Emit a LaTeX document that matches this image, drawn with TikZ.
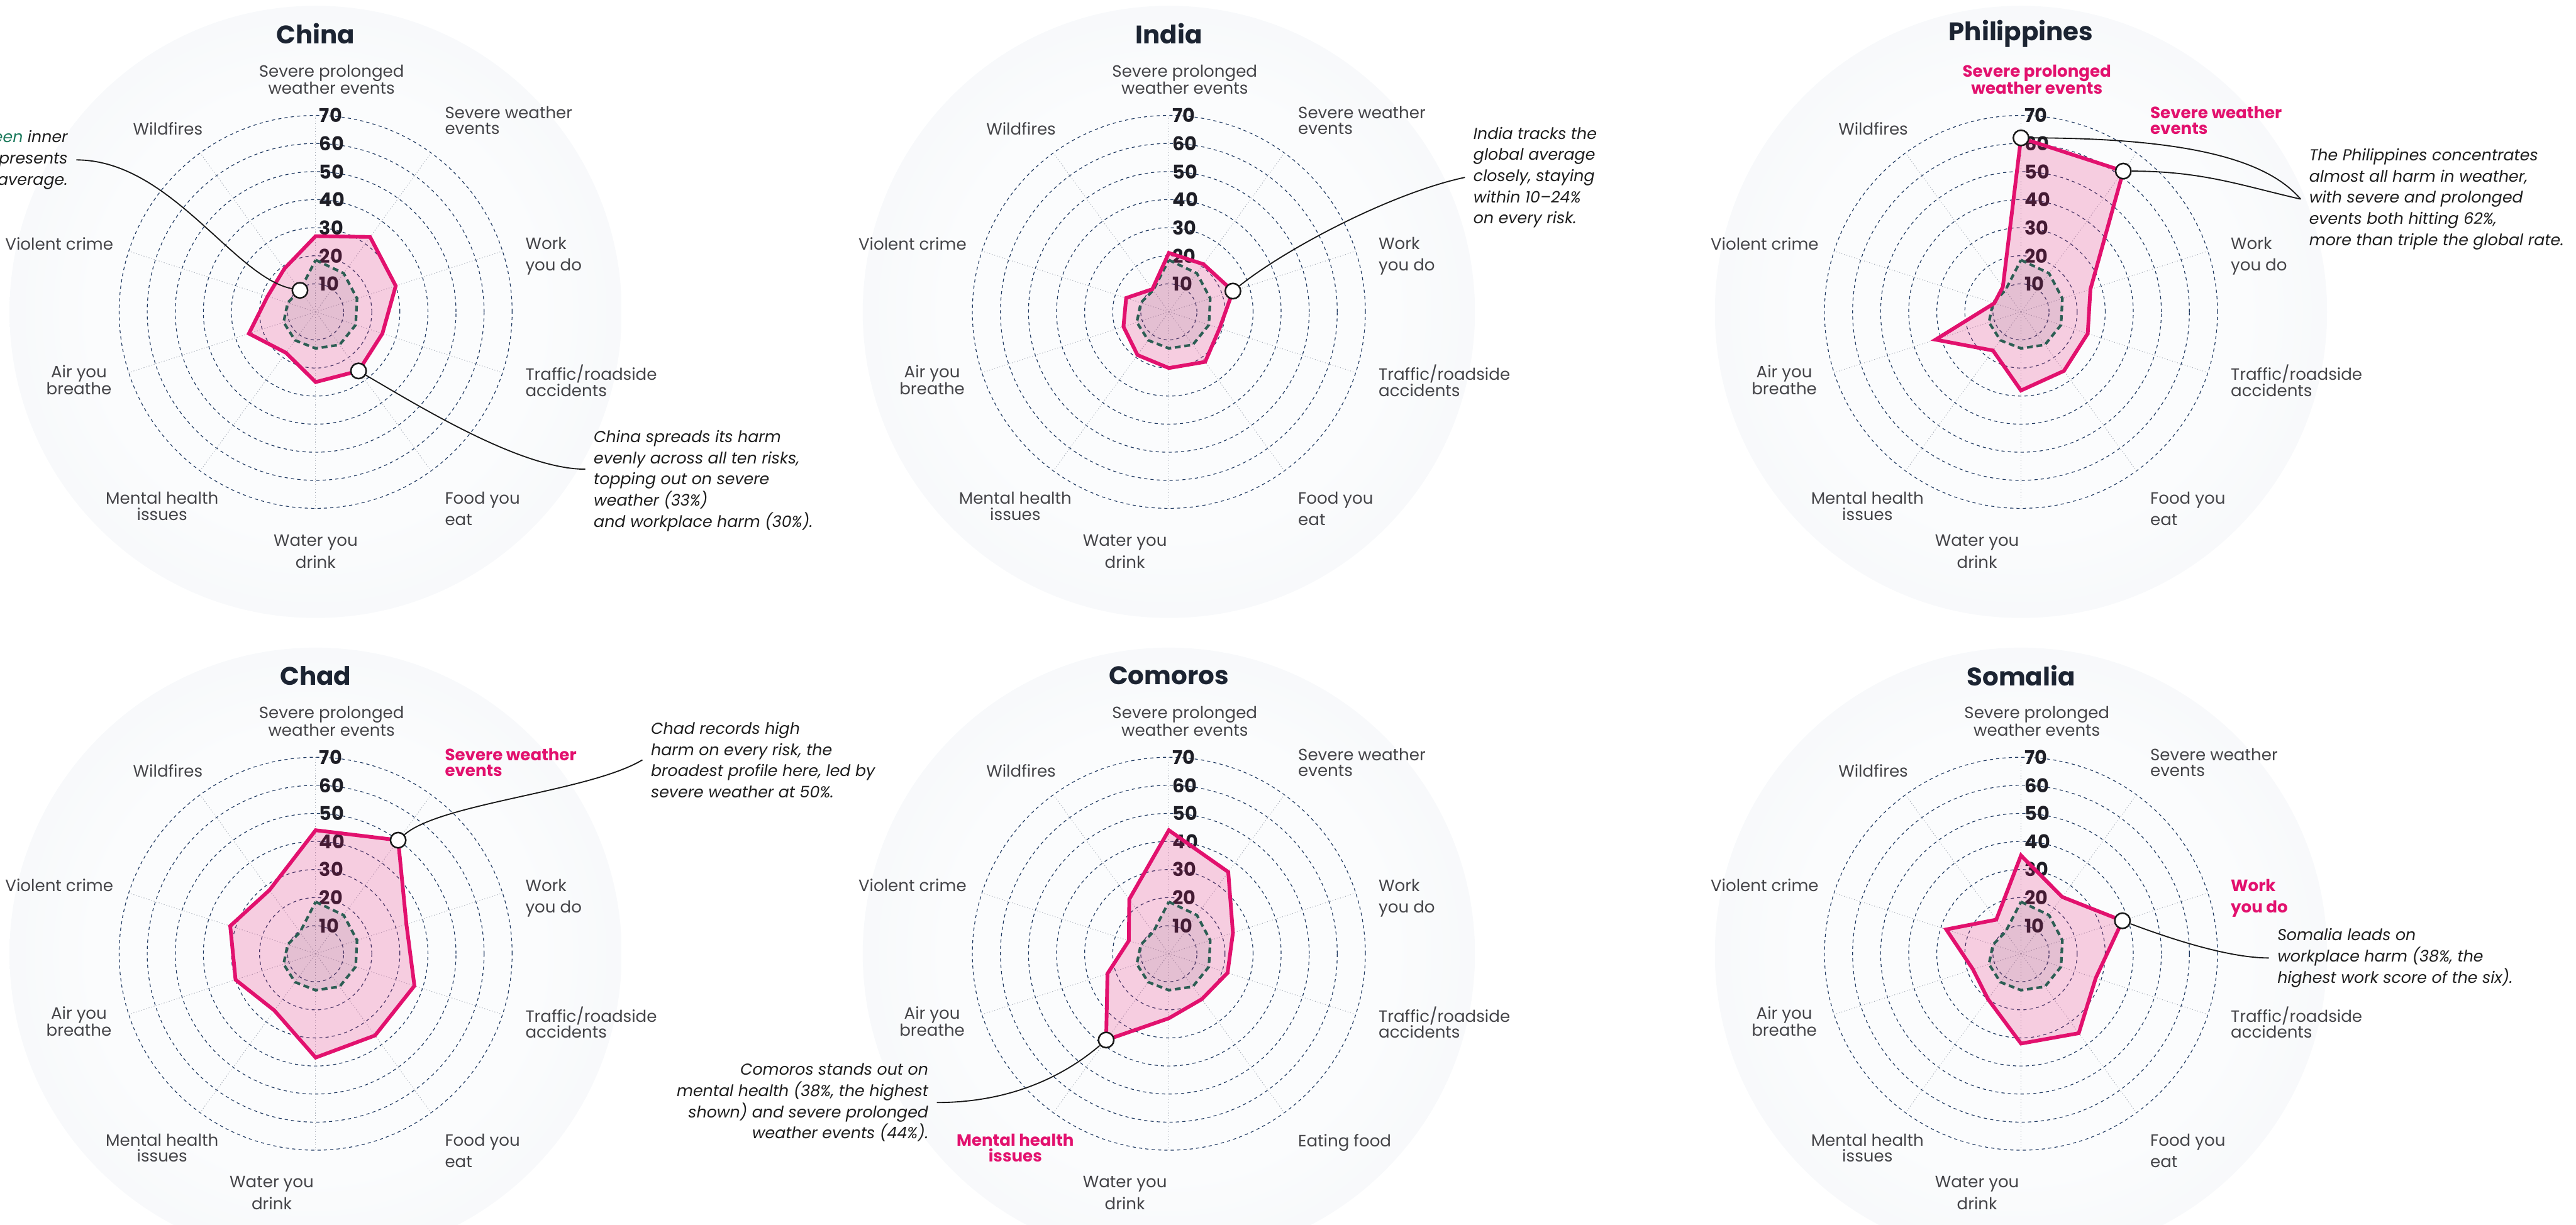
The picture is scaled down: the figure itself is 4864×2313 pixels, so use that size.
\documentclass[tikz,border=0pt]{standalone}
\usepackage{fontspec}
\setmainfont{Poppins}
\usepackage{xcolor}
\usepackage{tikz}

\definecolor{discin}{RGB}{251,252,253}
\definecolor{discout}{RGB}{235,238,242}
\definecolor{harm}{RGB}{226,17,110}
\definecolor{avggreen}{RGB}{44,94,84}
\definecolor{notegreen}{RGB}{27,122,92}
\definecolor{ringblue}{RGB}{32,58,98}
\definecolor{labgrey}{RGB}{68,68,72}
\definecolor{inkdark}{RGB}{28,36,50}

\pgfdeclareradialshading{discshade}{\pgfpoint{0bp}{0bp}}{%
  color(0bp)=(discin); color(18bp)=(discin);
  color(50bp)=(discout); color(60bp)=(discout)}

\begin{document}
\begin{tikzpicture}[
  x=1pt, y=1pt,
  disc/.style={shading=discshade},
  ring/.style={draw=ringblue, line width=1.4pt,
    dash pattern=on 6pt off 6pt},
  spoke/.style={draw={rgb,255:red,170;green,176;blue,186},
    line width=1.2pt, dash pattern=on 1.5pt off 3.5pt},
  scalelab/.style={anchor=west, inner sep=0pt,
    text={rgb,255:red,30;green,30;blue,38},
    font=\fontsize{36}{36}\selectfont\bfseries},
  axlab/.style={inner sep=0pt, text=labgrey,
    font=\fontsize{31}{30}\selectfont},
  axlabhl/.style={text=harm, font=\fontsize{31}{30}\selectfont\bfseries},
  charttitle/.style={inner sep=0pt, text=inkdark,
    font=\fontsize{48}{48}\selectfont\bfseries},
  cfill/.style={fill=harm, fill opacity=0.2},
  cline/.style={draw=harm, line width=7pt},
  afill/.style={fill={rgb,255:red,50;green,50;blue,70}, fill opacity=0.09},
  aline/.style={draw=avggreen, line width=5pt,
    dash pattern=on 11pt off 7pt},
  hotspot/.style={circle, draw={rgb,255:red,25;green,25;blue,25},
    fill=white, line width=3pt, minimum size=29pt, inner sep=0pt},
  note/.style={inner xsep=16pt, inner ysep=0pt,
    text={rgb,255:red,30;green,30;blue,30},
    font=\fontsize{30}{40}\selectfont\itshape},
  link/.style={draw={rgb,255:red,25;green,25;blue,25}, line width=2.2pt},
  hl-philippines-0/.style={axlabhl},
  hl-philippines-1/.style={axlabhl},
  hl-chad-1/.style={axlabhl},
  hl-comoros-6/.style={axlabhl},
  hl-somalia-2/.style={axlabhl},
]

  %% ── Canvas ──────────────────────────────────────────────────
  \useasboundingbox (0,0) rectangle (4864,2313);

  %% ── Chart centres ───────────────────────────────────────────
  \coordinate (china)       at (596,1724);
  \coordinate (india)       at (2207,1724);
  \coordinate (philippines) at (3816,1724);
  \coordinate (chad)        at (596,512);
  \coordinate (comoros)     at (2207,512);
  \coordinate (somalia)     at (3816,512);

  %% ── Radar charts ────────────────────────────────────────────
  \foreach \c/\ttl/\vals/\food/\wx in {
      china/China/{27,33,30,25,26,25,18,25,18,19}/{Food you\\[10pt]eat}/0,
      india/India/{21,21,24,19,22,20,19,17,16,10}/{Food you\\[10pt]eat}/-83,
      philippines/Philippines/{62,62,26,25,26,28,17,32,10,11}/{Food you\\[10pt]eat}/-83,
      chad/Chad/{44,50,34,37,36,37,25,30,32,28}/{Food you\\[10pt]eat}/-83,
      comoros/Comoros/{44,36,24,22,20,23,38,23,15,24}/{Eating food}/-83,
      somalia/Somalia/{35,25,38,28,35,32,20,18,28,15}/{Food you\\[10pt]eat}/-83} {

    \shade[disc] (\c) circle (578);
    \foreach \r in {1,...,7}
      \draw[ring] (\c) circle (53*\r);
    \foreach \k in {0,...,9}
      \draw[spoke] (\c) -- ++(90-36*\k:371);
    \foreach \r in {1,...,7}
      \node[scalelab] (\c-s\r) at ([shift={(7,53*\r)}]\c) {\r0};

    \node[charttitle] (\c-title) at ([shift={(0,525)}]\c) {\ttl};

    \foreach \k/\dx/\dy/\anc/\al/\txt in {
        0/30/467/north/center/{Severe prolonged\\weather events},
        1/244/388/north west/left/{Severe weather\\events},
        2/396/141/north west/left/{Work\\[10pt]you do},
        3/396/-100/north west/left/{Traffic/roadside\\accidents},
        4/244/-340/north west/left/{\food},
        5/\wx/-420/north/center/{Water you\\[9pt]drink},
        6/-290/-340/north/center/{Mental health\\issues},
        7/-447/-100/north/center/{Air you\\breathe},
        8/-382/141/north east/right/{Violent crime},
        9/-279/358/north/center/{Wildfires}}
      \node[axlab, anchor=\anc, align=\al, hl-\c-\k/.try]
        (\c-lab\k) at ([shift={(\dx,\dy)}]\c) {\txt};

    \foreach \v [count=\k from 0] in \vals
      \coordinate (\c-\k) at ([shift={(90-36*\k:5.3*\v)}]\c);
    \foreach \v [count=\k from 0] in {18.5,17,15.5,15,14.5,13,12.5,12,10.5,9.5}
      \coordinate (\c-a\k) at ([shift={(90-36*\k:5.3*\v)}]\c);

    \fill[cfill] (\c-0) \foreach \k in {1,...,9} {-- (\c-\k)} -- cycle;
    \fill[afill] (\c-a0) \foreach \k in {1,...,9} {-- (\c-a\k)} -- cycle;
    \draw[aline] (\c-a0) \foreach \k in {1,...,9} {-- (\c-a\k)} -- cycle;
    \draw[cline] (\c-0) \foreach \k in {1,...,9} {-- (\c-\k)} -- cycle;
  }

  %% ── Notes ───────────────────────────────────────────────────
  \node[note, anchor=east, align=right] (chinaL) at (144,2011)
    {The \textcolor{notegreen}{green} inner\\shape represents\\the global average.};
  \node[note, anchor=west, align=left] (chinaR) at (1105,1405)
    {China spreads its harm\\evenly across all ten risks,\\topping out on severe\\weather (33\%)\\and workplace harm (30\%).};
  \node[note, anchor=west, align=left] (indiaN) at (2766,1978)
    {India tracks the\\global average\\closely, staying\\within 10--24\%\\on every risk.};
  \node[note, anchor=west, align=left] (philN) at (4344,1937)
    {The Philippines concentrates\\almost all harm in weather,\\with severe and prolonged\\events both hitting 62\%,\\more than triple the global rate.};
  \node[note, anchor=west, align=left] (chadN) at (1213,878)
    {Chad records high\\harm on every risk, the\\broadest profile here, led by\\severe weather at 50\%.};
  \node[note, anchor=east, align=right] (comN) at (1769,231)
    {Comoros stands out on\\mental health (38\%, the highest\\shown) and severe prolonged\\weather events (44\%).};
  \node[note, anchor=west, align=left] (somN) at (4284,504)
    {Somalia leads on\\workplace harm (38\%, the\\highest work score of the six).};

  %% ── Hotspots ────────────────────────────────────────────────
  \node[hotspot] (hs-chinaA)  at (china-a9)      {};
  \node[hotspot] (hs-china)   at (china-4)       {};
  \node[hotspot] (hs-india)   at (india-2)       {};
  \node[hotspot] (hs-phil0)   at (philippines-0) {};
  \node[hotspot] (hs-phil1)   at (philippines-1) {};
  \node[hotspot] (hs-chad)    at (chad-1)        {};
  \node[hotspot] (hs-comoros) at (comoros-6)     {};
  \node[hotspot] (hs-somalia) at (somalia-2)     {};

  %% ── Links ───────────────────────────────────────────────────
  \draw[link] (chinaL.east) .. controls +(177,0) and +(-126,26) .. (hs-chinaA);
  \draw[link] (hs-china) .. controls +(120,-70) and +(-120,0) .. ([yshift=22]chinaR.west);
  \draw[link] (hs-india) .. controls +(100,80) and +(-140,-30) .. (indiaN.west);
  \draw[link] (hs-phil0) .. controls +(330,0) and +(-60,70) .. (philN.west);
  \draw[link] (hs-phil1) .. controls +(150,0) and +(-110,25) .. (philN.west);
  \draw[link] (hs-chad) .. controls +(80,70) and +(-100,-60) .. (chadN.west);
  \draw[link] (comN.east) .. controls +(150,0) and +(-70,-60) .. (hs-comoros);
  \draw[link] (hs-somalia) .. controls +(80,-30) and +(-80,0) .. (somN.west);

\end{tikzpicture}
\end{document}
